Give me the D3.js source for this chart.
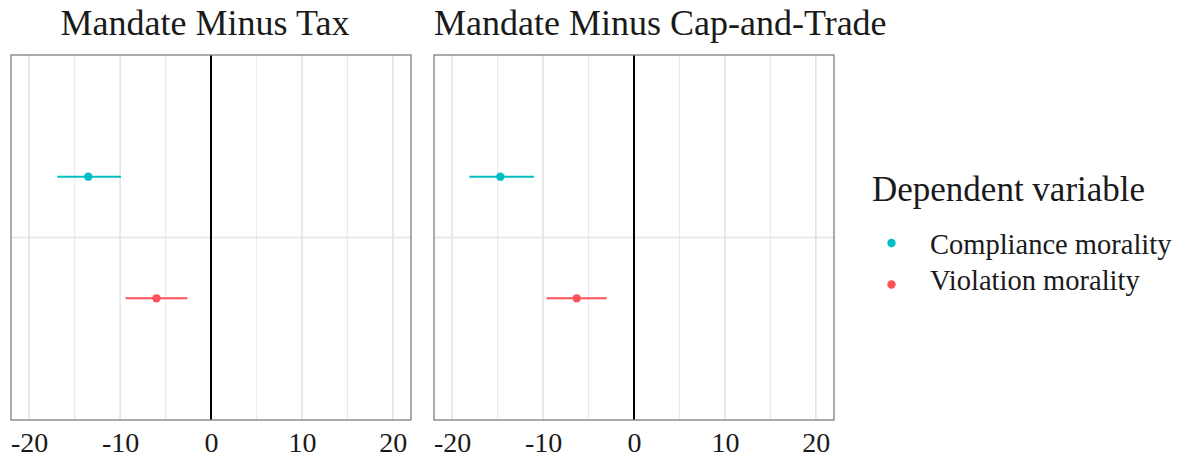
<!DOCTYPE html>
<html>
<head>
<meta charset="utf-8">
<script src="https://cdn.jsdelivr.net/npm/d3@7"></script>
<style>
  body { margin: 0; background: #fff; }
  text { font-family: "Liberation Serif", "Times New Roman", serif; fill: #1a1a1a; }
</style>
</head>
<body>
<div id="chart"></div>
<script>
// data
var panels = ["Mandate Minus Tax", "Mandate Minus Cap-and-Trade"];
var groups = ["Compliance morality", "Violation morality"];
var colors = ["#00BFC4", "#FF5159"];
var estimates = [[-13.5, -6.0], [-14.7, -6.3]];
var lower = [[-16.9, -9.4], [-18.1, -9.6]];
var upper = [[-9.9, -2.6], [-11.0, -3.0]];
var xTicks = [-20, -10, 0, 10, 20];
var xMinor = [-15, -5, 5, 15];

var width = 1183, height = 456;
var panelW = 400, panelTop = 55, panelH = 365;
var panelLeft = [11, 434];

var svg = d3.select("#chart").append("svg")
	.attr("width", width)
	.attr("height", height);

var x = d3.scaleLinear().domain([-22, 22]).range([0, panelW]);
// one discrete level, groups dodged around it
var y = d3.scaleLinear().domain([1.6, 0.4]).range([0, panelH]);
var dodge = d3.scalePoint().domain(groups).range([1.2, 0.8]);

panels.forEach(function(title, p) {
	var g = svg.append("g")
		.attr("transform", "translate(" + panelLeft[p] + "," + panelTop + ")");

	// grid
	g.selectAll(".minor").data(xMinor).enter().append("line")
		.attr("x1", function(d) { return x(d); })
		.attr("x2", function(d) { return x(d); })
		.attr("y1", 0).attr("y2", panelH)
		.attr("stroke", "#ebebeb").attr("stroke-width", 1.2);
	g.selectAll(".major").data(xTicks).enter().append("line")
		.attr("x1", function(d) { return x(d); })
		.attr("x2", function(d) { return x(d); })
		.attr("y1", 0).attr("y2", panelH)
		.attr("stroke", "#e3e3e3").attr("stroke-width", 1.6);
	g.append("line")
		.attr("x1", 0).attr("x2", panelW)
		.attr("y1", y(1)).attr("y2", y(1))
		.attr("stroke", "#e3e3e3").attr("stroke-width", 1.6);

	// zero line
	g.append("line")
		.attr("x1", x(0)).attr("x2", x(0))
		.attr("y1", 0).attr("y2", panelH)
		.attr("stroke", "#000").attr("stroke-width", 2);

	// error bars and points
	groups.forEach(function(grp, i) {
		g.append("line")
			.attr("x1", x(lower[p][i]))
			.attr("x2", x(upper[p][i]))
			.attr("y1", y(dodge(grp)))
			.attr("y2", y(dodge(grp)))
			.attr("stroke", colors[i]).attr("stroke-width", 2);
		g.append("circle")
			.attr("cx", x(estimates[p][i]))
			.attr("cy", y(dodge(grp)))
			.attr("r", 4.2)
			.attr("fill", colors[i]);
	});

	// border
	g.append("rect")
		.attr("width", panelW).attr("height", panelH)
		.attr("fill", "none")
		.attr("stroke", "#7f7f7f").attr("stroke-width", 1.3);

	// x axis
	var ax = g.append("g")
		.attr("transform", "translate(0," + panelH + ")")
		.call(d3.axisBottom(x).tickValues(xTicks).tickSize(0)
			.tickFormat(function(d) { return String(d); }));
	ax.select(".domain").remove();
	ax.selectAll("text")
		.attr("y", 31.5).attr("dy", 0)
		.style("font-size", "28px")
		.style("font-family", "Liberation Serif, serif")
		.attr("fill", "#4d4d4d");

	// panel title
	g.append("text")
		.attr("x", p == 0 ? panelW / 2 - 6 : 0)
		.attr("y", 35 - panelTop)
		.attr("text-anchor", p == 0 ? "middle" : "start")
		.style("font-size", "36px")
		.text(title);
});

// legend
var leg = svg.append("g").attr("transform", "translate(872,0)");
leg.append("text")
	.attr("x", 0).attr("y", 201)
	.style("font-size", "35px")
	.text("Dependent variable");
groups.forEach(function(grp, i) {
	leg.append("circle")
		.attr("cx", 19.5).attr("cy", 243 + i * 41.5)
		.attr("r", 4.2)
		.attr("fill", colors[i]);
	leg.append("text")
		.attr("x", 58).attr("y", 254 + i * 36)
		.style("font-size", "28.5px")
		.text(grp);
});
</script>
</body>
</html>
